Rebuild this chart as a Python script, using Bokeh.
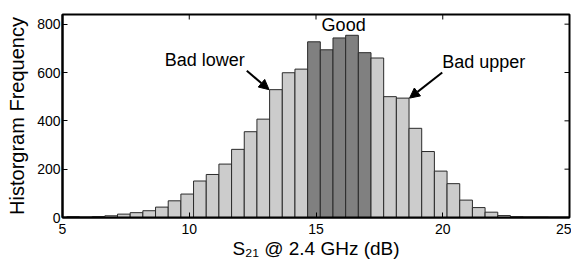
from bokeh.plotting import figure
from bokeh.models import ColumnDataSource, Label, Arrow, NormalHead, FixedTicker, Range1d
from bokeh.embed import file_html
from bokeh.resources import INLINE

# ---- data ----
bin_left = [5.17, 5.67, 6.17, 6.67, 7.17, 7.67, 8.17, 8.67, 9.17, 9.67,
            10.17, 10.67, 11.17, 11.67, 12.17, 12.67, 13.17, 13.67, 14.17, 14.67,
            15.17, 15.67, 16.17, 16.67, 17.17, 17.67, 18.17, 18.67, 19.17, 19.67,
            20.17, 20.67, 21.17, 21.67, 22.17, 22.67, 23.17, 23.67, 24.17]
counts = [4, 1, 4, 7, 14, 20, 28, 43, 69, 97,
          151, 178, 221, 282, 355, 407, 529, 599, 614, 727,
          694, 743, 754, 682, 660, 500, 494, 369, 273, 192,
          140, 72, 41, 22, 8, 3, 1, 1, 0]
bin_width = 0.5
good_range = (14.67, 17.17)
x_ticks = [5, 10, 15, 20, 25]
y_ticks = [0, 200, 400, 600, 800]
x_lim = (5, 25)
y_lim = (0, 840)

FONT = "Liberation Sans"
LIGHT = "#cccccc"
DARK = "#808080"

colors = [DARK if good_range[0] <= l < good_range[1] else LIGHT for l in bin_left]
src = ColumnDataSource(dict(
    left=bin_left,
    right=[l + bin_width for l in bin_left],
    top=counts,
    bottom=[0] * len(counts),
    color=colors,
))

W, H = 571, 262
BL, BR, BT, BB = 62, 2, 14, 45
p = figure(width=W, height=H, output_backend="svg", toolbar_location=None,
           x_range=Range1d(*x_lim), y_range=Range1d(*y_lim),
           min_border_left=BL, min_border_right=BR, min_border_top=BT,
           min_border_bottom=BB)
p.xgrid.visible = False
p.ygrid.visible = False
p.outline_line_color = "black"
p.outline_line_width = 2
p.background_fill_color = "white"
p.border_fill_color = "white"

p.quad(left="left", right="right", top="top", bottom="bottom", source=src,
       fill_color="color", line_color="#2a2a2a", line_width=1)

for ax in (p.xaxis[0], p.yaxis[0]):
    ax.major_tick_in = 5
    ax.major_tick_out = 0
    ax.minor_tick_line_color = None
    ax.axis_line_width = 2
    ax.axis_line_color = "black"
    ax.major_tick_line_color = "black"
    ax.major_label_text_font = FONT
    ax.major_label_text_font_size = "14px"
    ax.major_label_text_color = "black"
    ax.axis_label_text_font = FONT
    ax.axis_label_text_font_style = "normal"
    ax.axis_label_text_color = "black"

p.xaxis.ticker = FixedTicker(ticks=x_ticks)
p.yaxis.ticker = FixedTicker(ticks=y_ticks)
p.xaxis.major_label_standoff = 6
p.yaxis.major_label_standoff = 2

p.yaxis.axis_label = "Historgram Frequency"
p.yaxis.axis_label_text_font_size = "20px"
p.yaxis.axis_label_standoff = 6

p.xaxis.axis_label = "S\u2082\u2081 @ 2.4 GHz (dB)"
p.xaxis.axis_label_text_font_size = "19px"
p.xaxis.axis_label_standoff = 1

# inward ticks on the top and right edges of the box (from the tick lists)
tick_dx = 5 * (x_lim[1] - x_lim[0]) / (W - BL - BR)
tick_dy = 5 * (y_lim[1] - y_lim[0]) / (H - BT - BB)
p.segment(x0=x_ticks, y0=[y_lim[1]] * len(x_ticks), x1=x_ticks,
          y1=[y_lim[1] - tick_dy] * len(x_ticks), line_color="black", line_width=1)
p.segment(x0=[x_lim[1]] * len(y_ticks), y0=y_ticks, x1=[x_lim[1] - tick_dx] * len(y_ticks),
          y1=y_ticks, line_color="black", line_width=1)

# annotations
p.add_layout(Label(x=16.09, y=798, text="Good", text_font=FONT, text_font_size="18px",
                   text_align="center", text_baseline="alphabetic", text_color="black"))
p.add_layout(Label(x=9.03, y=653, text="Bad lower", text_font=FONT, text_font_size="18px",
                   text_align="left", text_baseline="alphabetic", text_color="black"))
p.add_layout(Label(x=19.98, y=643, text="Bad upper", text_font=FONT, text_font_size="18px",
                   text_align="left", text_baseline="alphabetic", text_color="black"))

p.add_layout(Arrow(x_start=12.27, y_start=607, x_end=13.15, y_end=529, line_width=2,
                   line_color="black",
                   end=NormalHead(size=10, fill_color="black", line_color="black")))
p.add_layout(Arrow(x_start=19.98, y_start=600, x_end=18.69, y_end=494, line_width=2,
                   line_color="black",
                   end=NormalHead(size=10, fill_color="black", line_color="black")))

open("out.html", "w").write(file_html(p, INLINE))
